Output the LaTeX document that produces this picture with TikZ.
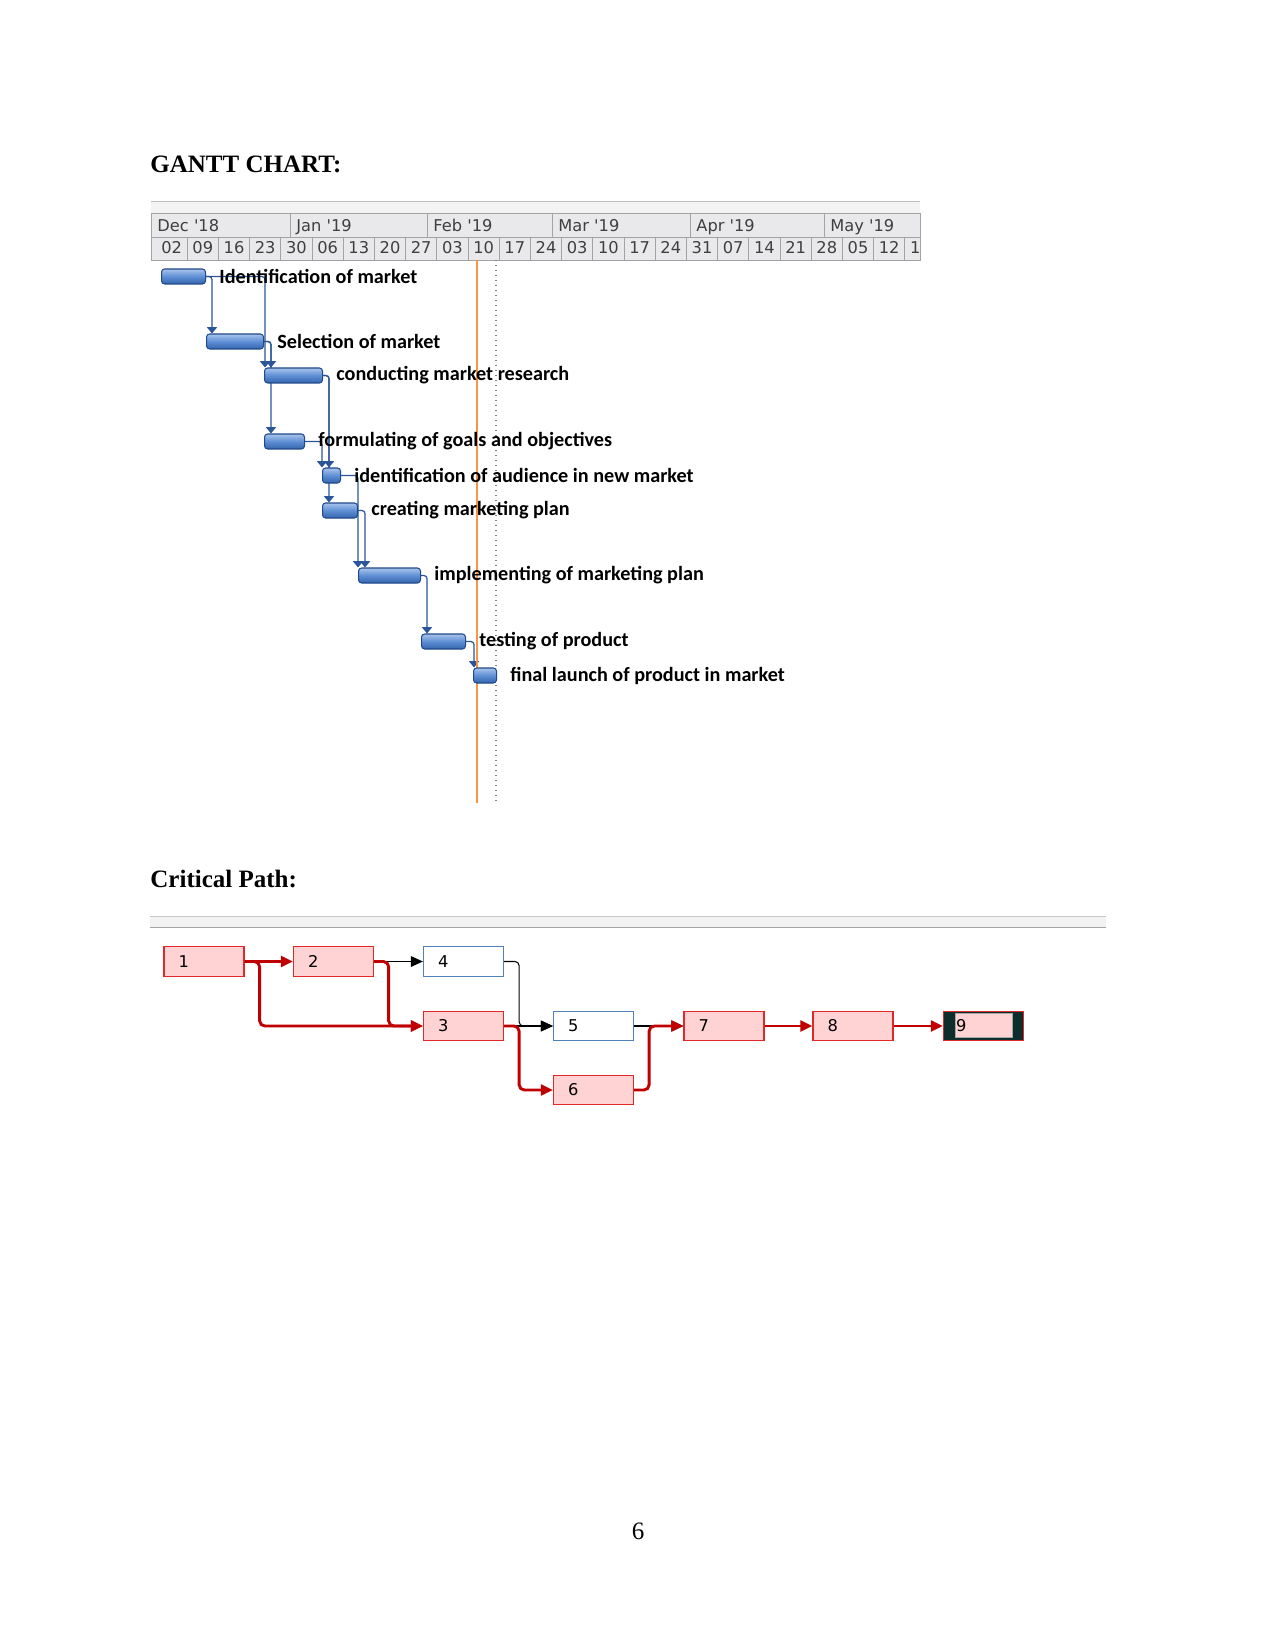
\documentclass[tikz,border=0pt]{standalone}
\usepackage{fontspec}
\setmainfont{Liberation Serif}
\newfontfamily\ganttfont{Carlito}
\newfontfamily\projfont{DejaVu Sans}
\usepackage{xcolor}
\definecolor{barlight}{HTML}{A9C4EC}
\definecolor{barmid}{HTML}{5E8ED4}
\definecolor{bardark}{HTML}{3465AE}
\definecolor{barline}{HTML}{1F4A8A}
\definecolor{linkblue}{HTML}{2A5699}
\definecolor{hdrbg}{HTML}{E9E9EB}
\definecolor{hdrline}{HTML}{A3A3A3}
\definecolor{hdrtext}{HTML}{3F3F3F}
\definecolor{today}{HTML}{F79646}
\definecolor{critred}{HTML}{C00000}
\definecolor{critedge}{HTML}{E02828}
\definecolor{critfill}{HTML}{FFD3D3}
\definecolor{normedge}{HTML}{4F81BD}
\definecolor{finaldark}{HTML}{0E2E2E}
\usepackage{tikz}
\usetikzlibrary{arrows.meta,positioning,calc,backgrounds}

\tikzset{
  gbar/.style={draw=barline, line width=0.5pt, rounded corners=1.5pt,
    top color=barlight, bottom color=bardark, middle color=barmid,
    minimum height=7.2pt, inner sep=0pt, anchor=west},
  glabel/.style={font=\ganttfont\bfseries\fontsize{9.7}{11}\selectfont, inner sep=0pt, anchor=west},
  glink/.style={draw=linkblue, line width=0.6pt, rounded corners=1.5pt,
    -{Triangle[width=4.8pt,length=3pt]}},
  hdr/.style={font=\projfont\fontsize{7.8}{9}\selectfont, text=hdrtext, inner sep=0pt},
  cnode/.style={draw=critedge, fill=critfill, line width=0.6pt, minimum width=38.4pt,
    minimum height=14.2pt, inner xsep=7pt, text width=24.4pt, align=left,
    font=\projfont\fontsize{7.8}{9}\selectfont},
  onode/.style={cnode, draw=normedge, fill=white},
  crit/.style={draw=critred, line width=1.4pt, rounded corners=2.5pt,
    -{Triangle[width=5.2pt,length=5.8pt]}},
  norm/.style={draw=black, line width=0.5pt, rounded corners=2pt,
    -{Triangle[width=5.2pt,length=5.8pt]}},
  heading/.style={font=\bfseries\fontsize{12}{14}\selectfont, inner sep=0pt, anchor=base west}
}

\begin{document}
\begin{tikzpicture}[x=0.48pt,y=-0.48pt]
  \useasboundingbox (0,0) rectangle (1275,1650);
  \node[heading] (title1) at (150,173) {GANTT CHART:};

  % timescale header
  \fill[hdrbg!55] (151,201) rectangle (920,213);
  \draw[hdrline!70] (151,201) -- (920,201);
  \fill[hdrbg] (151,213) rectangle (920,260);
  \draw[hdrline] (151,213) rectangle (920,260);
  \draw[hdrline] (151,237) -- (920,237);
  \foreach \a/\b/\lab [count=\i] in {151/290/Dec \textquotesingle18, 290/427/Jan \textquotesingle19,
      427/552/Feb \textquotesingle19, 552/690/Mar \textquotesingle19, 690/824/Apr \textquotesingle19,
      824/920/May \textquotesingle19} {
    \draw[hdrline] (\b,213) -- (\b,237);
    \node[hdr, anchor=base west] (mon\i) at (\a+6,232) {\lab};
  }
  \begin{scope}
    \clip (151,237) rectangle (920,260);
    \foreach \d [count=\k from 0] in {02,09,16,23,30,06,13,20,27,03,10,17,24,03,10,17,24,31,07,14,21,28,05,12,19} {
      \draw[hdrline] (156+31.2*\k+31.2,237) -- (156+31.2*\k+31.2,260);
      \node[hdr, anchor=base] (day\k) at (156+31.2*\k+15.6,254) {\d};
    }
  \end{scope}

  % today line and status date
  \draw[today, line width=0.7pt] (477,260) -- (477,803);
  \draw[gray, line width=0.6pt, dash pattern=on 0.6pt off 1.8pt] (496,260) -- (496,803);

  % bars : name, start, end, row
  \def\gtask#1#2#3#4#5{\node[gbar, minimum width={(#3-#2)*0.48pt}] (#1) at (#2,#4) {};
     \node[glabel, right=6.2pt of #1] (#1l) {#5};}
  \gtask{t1}{161}{205}{276.5}{Identification of market}
  \gtask{t2}{206}{263}{341.5}{Selection of market}
  \gtask{t3}{264}{322}{375.5}{conducting market research}
  \gtask{t4}{264}{304}{441.5}{formulating of goals and objectives}
  \gtask{t5}{322}{340}{475.5}{identification of audience in new market}
  \gtask{t6}{322}{357}{510.5}{creating marketing plan}
  \gtask{t7}{358}{420}{575.5}{implementing of marketing plan}
  \gtask{t8}{421}{465}{641.5}{testing of product}
  \gtask{t9}{473}{496}{675.5}{final launch of product in market}

  % links
  \begin{scope}[on background layer]
    \draw[glink] (t1.east) -| ($(t2.north west)+(6,0)$);
    \draw[glink] (t1.east) -| ($(t3.north west)+(1,0)$);
    \draw[glink] (t2.east) -| ($(t3.north west)+(7,0)$);
    \draw[glink] (t2.east) -| ($(t4.north west)+(7,0)$);
    \draw[glink] (t3.east) -| ($(t5.north west)+(7,0)$);
    \draw[glink] (t4.east) -| ($(t5.north west)+(0,0)$);
    \draw[glink] (t3.east) -| ($(t6.north west)+(7,0)$);
    \draw[glink] (t5.east) -| ($(t7.north west)+(0,0)$);
    \draw[glink] (t6.east) -| ($(t7.north west)+(7,0)$);
    \draw[glink] (t7.east) -| ($(t8.north west)+(6,0)$);
    \draw[glink] (t8.east) -| ($(t9.north west)+(1,0)$);
  \end{scope}

  \node[heading] (title2) at (150,887) {Critical Path:};

  % network diagram
  \fill[hdrbg!60] (150,916) rectangle (1106,927);
  \draw[hdrline!60] (150,916) -- (1106,916);
  \draw[hdrline] (150,927) -- (1106,927);
  \node[cnode] (n1) at (204,961.5) {1};
  \node[cnode] (n2) at (333.5,961.5) {2};
  \node[onode] (n4) at (463.5,961.5) {4};
  \node[cnode] (n3) at (463.5,1026) {3};
  \node[onode] (n5) at (593.5,1026) {5};
  \node[cnode] (n6) at (593.5,1090) {6};
  \node[cnode] (n7) at (724,1026) {7};
  \node[cnode] (n8) at (853,1026) {8};
  \node[cnode, fill=finaldark, inner xsep=6pt, text width=26.4pt,
    path picture={\fill[critfill, draw=gray!70]
      ($(path picture bounding box.north west)+(12,2.5)$) rectangle
      ($(path picture bounding box.south east)+(-11,-3)$);}] (n9) at (983.5,1026) {9};

  \draw[norm] (n2.east) -- (n4.west);
  \draw[norm] (n4.east) -- ++(15,0) |- (n5.west);
  \draw[norm] (n3.east) -- (n5.west);
  \draw[norm] (n5.east) -- (n7.west);
  \draw[crit] (n1.east) -- (n2.west);
  \draw[crit] (n1.east) -- ++(15,0) |- (n3.west);
  \draw[crit] (n2.east) -- ++(14.5,0) |- (n3.west);
  \draw[crit] (n3.east) -- ++(15,0) |- (n6.west);
  \draw[crit] (n6.east) -- ++(15,0) |- (n7.west);
  \draw[crit] (n7.east) -- (n8.west);
  \draw[crit] (n8.east) -- (n9.west);

  \node[font=\fontsize{12}{14}\selectfont, inner sep=0pt, anchor=base] (page) at (638,1539) {6};
\end{tikzpicture}
\end{document}
